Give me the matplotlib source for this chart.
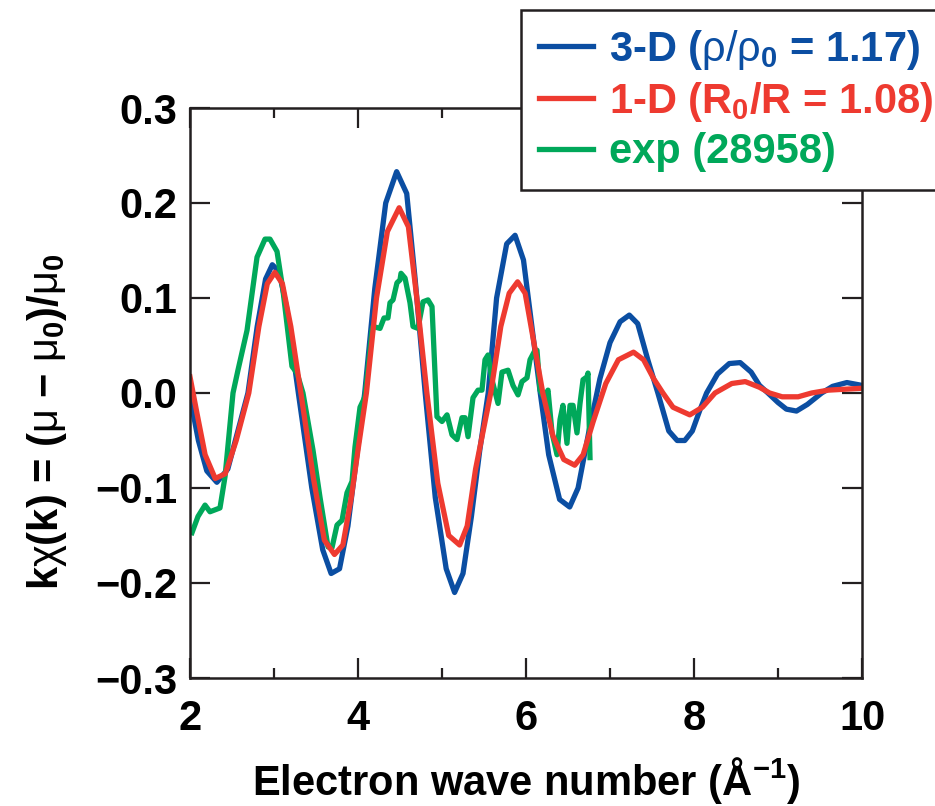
import numpy as np
import matplotlib
matplotlib.use("Agg")
import matplotlib.pyplot as plt
from matplotlib.ticker import MultipleLocator

plt.rcParams['font.family'] = ['Liberation Sans', 'DejaVu Sans']
plt.rcParams['mathtext.fontset'] = 'custom'
plt.rcParams['mathtext.rm'] = 'Liberation Sans'
plt.rcParams['mathtext.it'] = 'Liberation Sans'
plt.rcParams['mathtext.bf'] = 'Liberation Sans:bold'

# 3-D model (rho/rho0 = 1.17)
k_3d = [2.00, 2.10, 2.20, 2.32, 2.45, 2.57, 2.69, 2.80, 2.90, 2.98, 3.06, 3.15,
        3.29, 3.45, 3.58, 3.68, 3.78, 3.88, 3.98, 4.08, 4.20, 4.33, 4.46, 4.58,
        4.68, 4.80, 4.92, 5.05, 5.15, 5.25, 5.35, 5.45, 5.55, 5.65, 5.77, 5.87,
        5.97, 6.07, 6.17, 6.27, 6.40, 6.52, 6.62, 6.75, 6.88, 7.00, 7.12, 7.23,
        7.33, 7.45, 7.57, 7.70, 7.80, 7.89, 7.98, 8.07, 8.15, 8.28, 8.42, 8.55,
        8.68, 8.78, 8.88, 9.00, 9.10, 9.22, 9.35, 9.52, 9.65, 9.82, 10.00]
chi_3d = [-0.004, -0.050, -0.082, -0.094, -0.080, -0.040, 0.000, 0.070, 0.120, 0.135, 0.128, 0.090,
          0.000, -0.100, -0.165, -0.190, -0.185, -0.140, -0.070, 0.000, 0.110, 0.200, 0.233, 0.210,
          0.120, 0.000, -0.110, -0.185, -0.210, -0.190, -0.130, -0.060, 0.000, 0.100, 0.157, 0.166,
          0.140, 0.070, 0.000, -0.065, -0.112, -0.120, -0.100, -0.040, 0.015, 0.053, 0.075, 0.082,
          0.073, 0.035, 0.000, -0.040, -0.050, -0.050, -0.040, -0.018, 0.000, 0.020, 0.031, 0.032,
          0.022, 0.008, 0.000, -0.010, -0.017, -0.019, -0.012, 0.000, 0.007, 0.011, 0.008]

# 1-D model (R0/R = 1.08)
k_1d = [2.00, 2.08, 2.18, 2.30, 2.42, 2.55, 2.70, 2.82, 2.92, 3.01, 3.10, 3.20,
        3.32, 3.47, 3.60, 3.72, 3.82, 3.92, 4.00, 4.10, 4.22, 4.35, 4.49, 4.60,
        4.70, 4.82, 4.95, 5.08, 5.21, 5.30, 5.40, 5.58, 5.70, 5.80, 5.90, 5.99,
        6.10, 6.20, 6.32, 6.45, 6.58, 6.68, 6.80, 6.95, 7.10, 7.28, 7.40, 7.52,
        7.63, 7.75, 7.95, 8.10, 8.25, 8.45, 8.61, 8.78, 8.90, 9.05, 9.24, 9.40,
        9.60, 9.80, 10.00]
chi_1d = [0.017, -0.020, -0.065, -0.090, -0.085, -0.050, 0.000, 0.070, 0.115, 0.127, 0.115, 0.070,
          0.000, -0.090, -0.155, -0.170, -0.160, -0.110, -0.060, 0.000, 0.100, 0.170, 0.195, 0.175,
          0.100, 0.000, -0.095, -0.150, -0.160, -0.140, -0.080, 0.000, 0.070, 0.105, 0.117, 0.105,
          0.050, 0.000, -0.045, -0.070, -0.076, -0.065, -0.030, 0.010, 0.035, 0.043, 0.035, 0.015,
          0.000, -0.015, -0.023, -0.015, 0.000, 0.010, 0.012, 0.006, 0.000, -0.004, -0.004, 0.000,
          0.003, 0.004, 0.005]

# experiment (shot 28958)
k_exp = [2.024, 2.095, 2.179, 2.238, 2.357, 2.417, 2.512, 2.571, 2.679, 2.798, 2.893, 2.952,
         3.036, 3.107, 3.214, 3.274, 3.345, 3.464, 3.548, 3.643, 3.690, 3.750, 3.810, 3.869,
         3.929, 3.964, 4.024, 4.083, 4.167, 4.179, 4.262, 4.310, 4.357, 4.381, 4.417, 4.464,
         4.500, 4.512, 4.560, 4.619, 4.655, 4.714, 4.774, 4.833, 4.881, 4.940, 5.000, 5.060,
         5.119, 5.179, 5.238, 5.274, 5.310, 5.369, 5.429, 5.476, 5.512, 5.548, 5.595, 5.667,
         5.714, 5.786, 5.845, 5.905, 5.952, 6.012, 6.048, 6.107, 6.131, 6.167, 6.214, 6.262,
         6.310, 6.369, 6.405, 6.440, 6.488, 6.524, 6.560, 6.607, 6.643, 6.679, 6.726, 6.738,
         6.762]
chi_exp = [-0.147, -0.130, -0.118, -0.125, -0.121, -0.088, 0.000, 0.024, 0.066, 0.143, 0.162, 0.162,
           0.149, 0.108, 0.028, 0.021, 0.000, -0.060, -0.110, -0.162, -0.163, -0.139, -0.134, -0.105,
           -0.093, -0.057, -0.015, -0.004, 0.066, 0.070, 0.068, 0.079, 0.079, 0.095, 0.098, 0.116,
           0.119, 0.126, 0.121, 0.095, 0.070, 0.068, 0.096, 0.098, 0.091, -0.025, -0.030, -0.023,
           -0.044, -0.049, -0.026, -0.026, -0.046, -0.005, 0.003, 0.003, 0.035, 0.040, 0.014, -0.011,
           0.022, 0.024, 0.008, -0.002, 0.012, 0.016, 0.035, 0.045, 0.045, 0.003, -0.005, 0.003,
           -0.042, -0.065, -0.028, -0.013, -0.053, -0.013, -0.013, -0.042, -0.011, 0.014, 0.017, 0.021,
           -0.068]

blue = "#0b4ea2"
red = "#ee3a30"
green = "#00a85a"
dark = "#231f20"

fig = plt.figure(figsize=(9.35, 8.06), dpi=100)
ax = fig.add_axes([190/935, 1-678/806, 672/935, 570/806])

ax.plot(k_3d, chi_3d, color=blue, lw=3.8, label="3-D (" + r"$\rho/\rho_{\mathbf{0}}$" + " = 1.17)")
ax.plot(k_1d, chi_1d, color=red, lw=3.8, label="1-D (" + r"$\mathbf{R_0}$" + "/R = 1.08)")
ax.plot(k_exp, chi_exp, color=green, lw=3.8, label="exp (28958)")
ax.lines[1].set_zorder(2.5)

ax.set_xlim(2, 10)
ax.set_ylim(-0.3, 0.3)
ax.set_xticks([2, 4, 6, 8, 10])
ax.xaxis.set_minor_locator(MultipleLocator(1))
ax.set_yticks([-0.3, -0.2, -0.1, 0.0, 0.1, 0.2, 0.3])
ax.set_yticklabels(["\u22120.3", "\u22120.2", "\u22120.1", "0.0", "0.1", "0.2", "0.3"])

ax.tick_params(which='both', direction='in', top=True, right=True, width=1.6, color=dark)
ax.tick_params(which='major', length=14.5)
ax.tick_params(which='minor', length=7)
ax.tick_params(axis='x', which='major', pad=15, labelsize=30)
ax.tick_params(axis='y', which='major', pad=9, labelsize=30)
for lab in ax.get_xticklabels() + ax.get_yticklabels():
    lab.set_fontweight('bold')
for sp in ax.spines.values():
    sp.set_linewidth(1.8)
    sp.set_color(dark)

ax.set_xlabel("Electron wave number (\u00c5" + r"$^{\mathbf{-1}}$" + ")",
              fontsize=30, fontweight='bold', labelpad=12)
ax.set_ylabel(r"$\mathbf{k}\chi\mathbf{(k)}$ = ($\mu$ " + "\u2212" + r" $\mu_{\mathbf{0}}$)/$\mu_{\mathbf{0}}$",
              fontsize=30, fontweight='bold')
ax.yaxis.set_label_coords(-0.18, 0.45)

leg = ax.legend(loc='upper left', bbox_to_anchor=(521/935, 1-10/806),
                bbox_transform=fig.transFigure, fontsize=30, frameon=True,
                fancybox=False, framealpha=1, edgecolor=dark, handlelength=1.3,
                handletextpad=0.4, labelspacing=0.2, borderpad=0.42,
                borderaxespad=0)
leg.get_frame().set_linewidth(1.8)
leg.set_zorder(10)
for txt, line in zip(leg.get_texts(), leg.get_lines()):
    txt.set_color(line.get_color())
    txt.set_fontweight('bold')

fig.savefig("out.png", dpi=100)
